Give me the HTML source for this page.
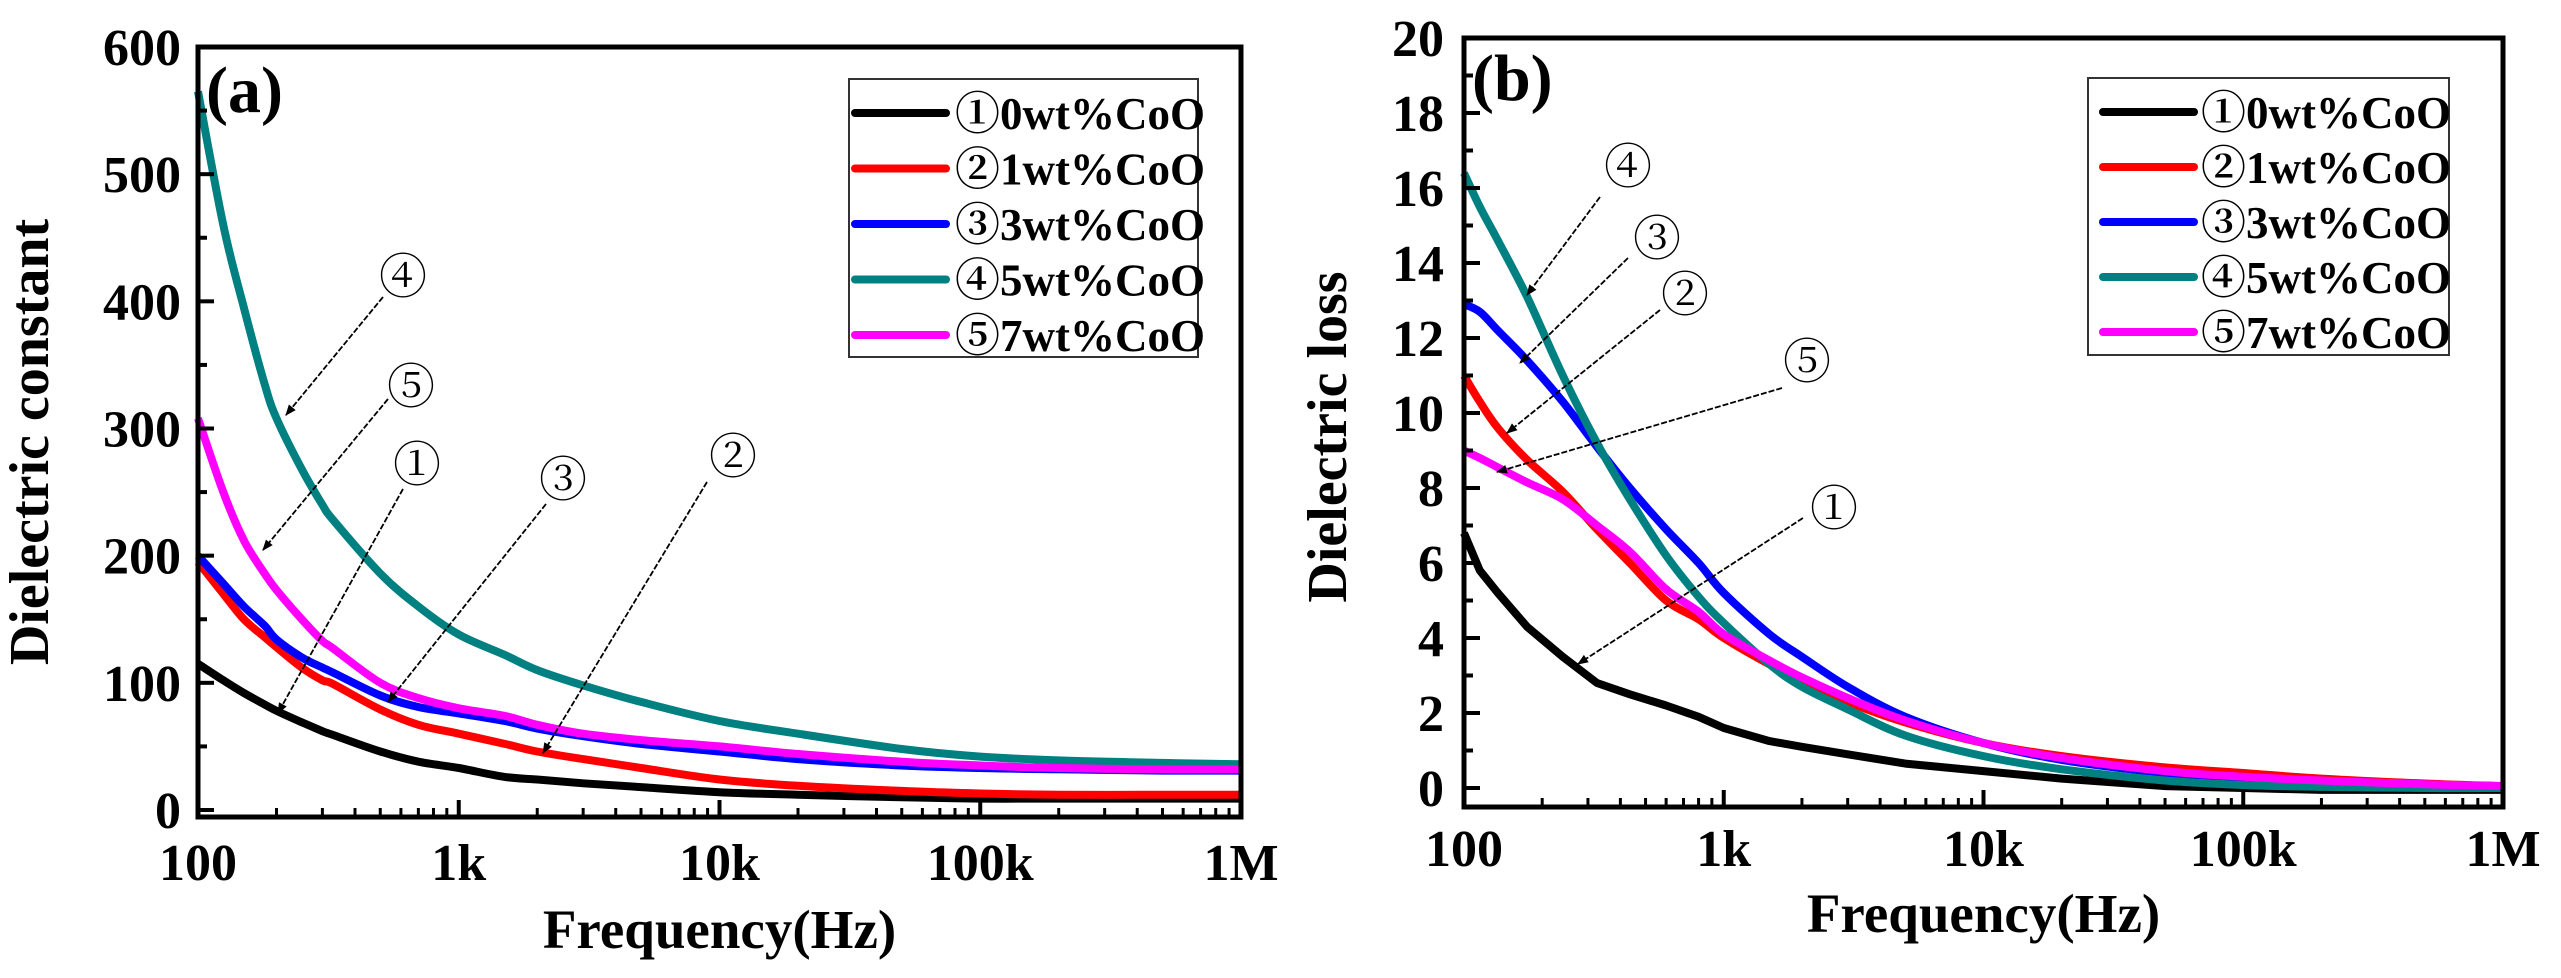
<!DOCTYPE html>
<html><head><meta charset="utf-8"><style>
html,body{margin:0;padding:0;background:#fff;}
svg{display:block;font-family:"Liberation Serif","Noto Serif CJK SC",serif;}
</style></head><body>
<svg id="fig" width="2561" height="978" viewBox="0 0 2561 978" xmlns="http://www.w3.org/2000/svg">
<defs>
<marker id="ah" viewBox="0 0 10 10" refX="9" refY="5" markerWidth="16" markerHeight="11" markerUnits="userSpaceOnUse" orient="auto"><path d="M0,1 L10,5 L0,9 z" fill="#000"/></marker>
</defs>
<g id="chartA"></g>
<g id="chartB"></g>
</svg>
<script>
const NS="http://www.w3.org/2000/svg";
const seriesNames=["①0wt%CoO","②1wt%CoO","③3wt%CoO","④5wt%CoO","⑤7wt%CoO"];
const seriesColors=["#000000","#ff0000","#0000ff","#008080","#ff00ff"];
const xTickLabels=["100","1k","10k","100k","1M"];
const xTickValues=[100,1000,10000,100000,1000000];

// Chart (a) data
const freqA=[100,125,150,180,200,250,300,330,500,700,1000,1500,2000,3000,5000,10000,20000,50000,100000,200000,500000,1000000];
const blackA=[115,102,92,83,78,69,62,59,46,38,33,26,24,21,18,14,12,10,9,9,9,9];
const redA=[195,170,150,136,128,112,102,99,79,67,60,52,46,40,33,24,19,15,13,12,12,12];
const blueA=[200,178,160,145,134,120,112,108,90,81,76,70,64,58,52,46,40,35,33,32,31,31];
const tealA=[565,460,395,335,308,268,240,228,186,160,138,122,110,98,85,70,60,48,42,39,37,36];
const magentaA=[308,250,212,186,173,150,133,127,100,88,80,74,67,60,55,50,44,38,35,33,32,32];
const yTicksA=[0,100,200,300,400,500,600];

// Chart (b) data
const freqB=[100,115,135,175,240,325,435,600,800,1000,1500,2000,3000,5000,10000,20000,50000,100000,200000,500000,1000000];
const blackB=[6.8,5.8,5.2,4.3,3.5,2.8,2.5,2.2,1.9,1.6,1.25,1.1,0.9,0.65,0.45,0.25,0.05,0.0,-0.05,-0.05,-0.05];
const redB=[11.0,10.3,9.6,8.75,7.9,6.9,6.0,5.0,4.5,4.0,3.3,2.9,2.3,1.75,1.2,0.85,0.55,0.4,0.25,0.12,0.05];
const blueB=[12.9,12.7,12.2,11.4,10.3,9.1,8.0,6.9,6.0,5.2,4.1,3.5,2.7,1.9,1.2,0.75,0.4,0.25,0.15,0.08,0.05];
const tealB=[16.4,15.5,14.6,13.1,11.0,9.2,7.7,6.2,5.1,4.4,3.3,2.7,2.1,1.4,0.85,0.5,0.2,0.08,0.03,0.0,0.0];
const magentaB=[9.0,8.8,8.55,8.15,7.7,7.0,6.3,5.3,4.7,4.1,3.4,2.95,2.4,1.8,1.2,0.8,0.45,0.3,0.2,0.1,0.05];
const yTicksB=[0,2,4,6,8,10,12,14,16,18,20];

function mk(tag,attrs,parent){const e=document.createElementNS(NS,tag);for(const k in attrs)e.setAttribute(k,attrs[k]);parent.appendChild(e);return e;}

function smoothPath(pts){
  let d="M"+pts[0][0].toFixed(1)+","+pts[0][1].toFixed(1);
  for(let i=0;i<pts.length-1;i++){
    const p0=pts[Math.max(0,i-1)],p1=pts[i],p2=pts[i+1],p3=pts[Math.min(pts.length-1,i+2)];
    const c1=[p1[0]+(p2[0]-p0[0])/6,p1[1]+(p2[1]-p0[1])/6];
    const c2=[p2[0]-(p3[0]-p1[0])/6,p2[1]-(p3[1]-p1[1])/6];
    d+=` C${c1[0].toFixed(1)},${c1[1].toFixed(1)} ${c2[0].toFixed(1)},${c2[1].toFixed(1)} ${p2[0].toFixed(1)},${p2[1].toFixed(1)}`;
  }
  return d;
}

function drawChart(g,cfg){
  const L=cfg.L,R=cfg.R,T=cfg.T,B=cfg.B;
  const xs=f=>L+(R-L)*Math.log10(f/100)/4;
  const ys=v=>cfg.y0px-v*(cfg.y0px-cfg.yMaxPx)/cfg.yMax;
  cfg.series.forEach((vals,i)=>{
    const pts=vals.map((v,j)=>[xs(cfg.freq[j]),ys(v)]);
    const d=(cfg.linear.indexOf(i)>=0)?pts.map((p,j)=>(j?"L":"M")+p[0].toFixed(1)+","+p[1].toFixed(1)).join(" "):smoothPath(pts);
    const p=mk("path",{d:d,fill:"none",stroke:seriesColors[i],"stroke-width":8,"stroke-linejoin":"round"},g);
    
    
  });
  const fr=mk("rect",{x:L,y:T,width:R-L,height:B-T,fill:"none",stroke:"#000","stroke-width":5},g);
  
  
  const step=cfg.yTicks[1]-cfg.yTicks[0];
  cfg.yTicks.forEach((v,i)=>{
    const y=ys(v);
    const t=mk("line",{x1:L,x2:L+16,y1:y,y2:y,stroke:"#000","stroke-width":4},g);
    
    
    if(i<cfg.yTicks.length-1){const ym=ys(v+step/2);
      const m=mk("line",{x1:L,x2:L+9,y1:ym,y2:ym,stroke:"#000","stroke-width":4},g);
      
      }
    const tx=mk("text",{x:cfg.yLabelRight,y:y+18,"text-anchor":"end","font-size":52,"font-weight":"bold"},g);
    tx.textContent=String(v);
    
    
  });
  xTickValues.forEach((f,i)=>{
    const x=xs(f);
    const t=mk("line",{x1:x,x2:x,y1:B,y2:B-17,stroke:"#000","stroke-width":4},g);
    
    
    if(i<4){for(let k=2;k<=9;k++){const xm=xs(f*k);
      const m=mk("line",{x1:xm,x2:xm,y1:B,y2:B-9,stroke:"#000","stroke-width":3},g);
      
      }}
    const tx=mk("text",{x:x,y:cfg.xLabelY,"text-anchor":"middle","font-size":52,"font-weight":"bold"},g);
    tx.textContent=xTickLabels[i];
    
    
  });
  const xt=mk("text",{x:(L+R)/2,y:cfg.xTitleY,"text-anchor":"middle","font-size":55,"font-weight":"bold"},g);
  xt.textContent="Frequency(Hz)";
  
  
  const yt=mk("text",{x:0,y:0,"text-anchor":"middle","font-size":56,"font-weight":"bold",transform:`translate(${cfg.yTitleX},${cfg.yTitleY}) rotate(-90)`},g);
  yt.textContent=cfg.yTitle;
  
  
  const pl=mk("text",{x:L+8,y:cfg.panelY,"font-size":66,"font-weight":"bold"},g);
  pl.textContent=cfg.panel;
  
  
  const lg=cfg.legend;
  const lb=mk("rect",{x:lg.x,y:lg.y,width:lg.w,height:lg.h,fill:"#fff",stroke:"#333","stroke-width":2},g);
  
  
  seriesNames.forEach((n,i)=>{
    const y=lg.row0+i*lg.dy;
    const ln=mk("line",{x1:lg.lx1,x2:lg.lx2,y1:y,y2:y,stroke:seriesColors[i],"stroke-width":8,"stroke-linecap":"round"},g);
    
    
    const tx=mk("text",{x:lg.tx,y:y+16,"font-size":45,"font-weight":"bold"},g);
    tx.textContent=n;
    
    
  });
  cfg.ann.forEach(a=>{
    const t=mk("text",{x:a[1],y:a[2]+16,"text-anchor":"middle","font-size":48},g);
    t.textContent=a[0];
    
    
    const l=mk("line",{x1:a[3],y1:a[4],x2:a[5],y2:a[6],stroke:"#000","stroke-width":1.8,"stroke-dasharray":"6,2","marker-end":"url(#ah)"},g);
    
    
  });
}

drawChart(document.getElementById("chartA"),{
  L:198,R:1241,T:47,B:817,y0px:810,yMaxPx:47,yMax:600,yTicks:yTicksA,freq:freqA,
  series:[blackA,redA,blueA,tealA,magentaA],linear:[],
  yLabelRight:181,xLabelY:880,xTitleY:948,yTitle:"Dielectric constant",yTitleX:48,yTitleY:442,
  panel:"(a)",panelY:112,
  legend:{x:849,y:79,w:349,h:278,row0:113,dy:55.5,lx1:855,lx2:946,tx:955},
  ann:[["④",403,277,383,297,286,415],["⑤",411,387,388,399,263,550],["①",417,465,403,489,278,713],["③",563,480,546,504,388,702],["②",733,457,707,482,543,753]]
});
drawChart(document.getElementById("chartB"),{
  L:1464,R:2503,T:38,B:807,y0px:788,yMaxPx:38,yMax:20,yTicks:yTicksB,freq:freqB,
  series:[blackB,redB,blueB,tealB,magentaB],linear:[0],
  yLabelRight:1444,xLabelY:866,xTitleY:932,yTitle:"Dielectric loss",yTitleX:1346,yTitleY:437,
  panel:"(b)",panelY:100,
  legend:{x:2088,y:78,w:361,h:277,row0:112,dy:55,lx1:2103,lx2:2194,tx:2201},
  ann:[["④",1628,167,1600,197,1527,295],["③",1657,239,1628,258,1520,363],["②",1685,295,1660,310,1507,433],["⑤",1807,362,1782,388,1497,472],["①",1834,509,1803,518,1578,664]]
});
</script>
</body></html>
